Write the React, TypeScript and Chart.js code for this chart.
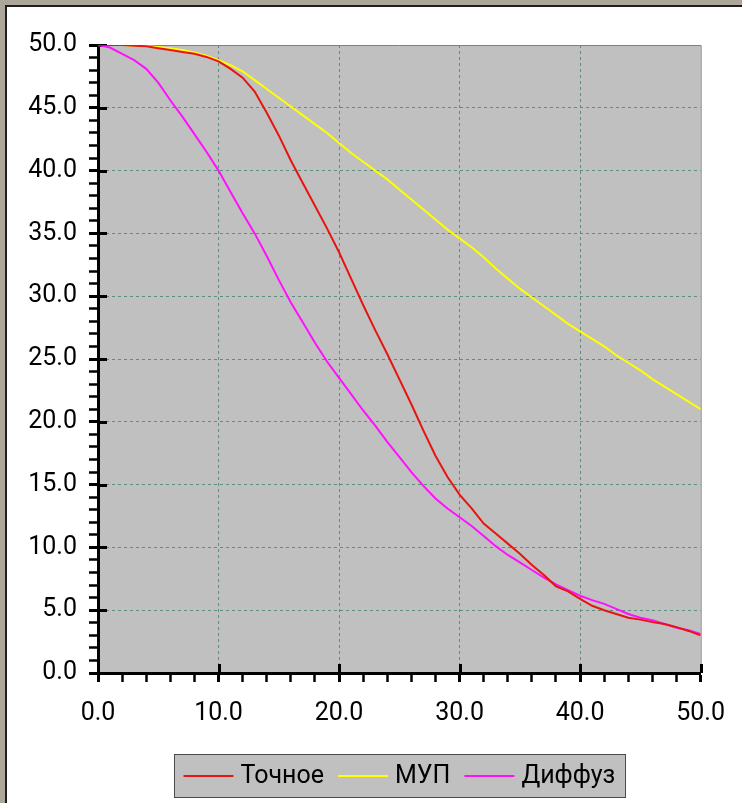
import React, { useEffect, useRef } from 'react';
import { Chart, registerables } from 'chart.js';

Chart.register(...registerables);

// ---- data ----
const xs = [
  0, 1, 2, 3, 4, 5, 6, 7, 8, 9, 10, 11, 12, 13, 14, 15, 16, 17, 18, 19, 20,
  21, 22, 23, 24, 25, 26, 27, 28, 29, 30, 31, 32, 33, 34, 35, 36, 37, 38, 39, 40,
  41, 42, 43, 44, 45, 46, 47, 48, 49, 50,
];

const seriesNames = ['Точное', 'МУП', 'Диффуз'];

const exactValues = [
  50.0, 50.0, 50.0, 49.95, 49.9, 49.75, 49.6, 49.45, 49.3, 49.05, 48.7,
  48.1, 47.4, 46.3, 44.6, 42.8, 40.8, 39.0, 37.2, 35.4, 33.5,
  31.4, 29.3, 27.3, 25.4, 23.4, 21.4, 19.3, 17.3, 15.6, 14.2,
  13.1, 11.9, 11.1, 10.3, 9.5, 8.6, 7.8, 6.9, 6.5, 5.9,
  5.35, 5.0, 4.7, 4.4, 4.25, 4.05, 3.9, 3.65, 3.35, 3.0,
];

const mupValues = [
  50.0, 50.0, 50.0, 49.95, 49.9, 49.85, 49.75, 49.6, 49.4, 49.15, 48.8,
  48.4, 47.9, 47.2, 46.5, 45.8, 45.1, 44.4, 43.7, 43.0, 42.2,
  41.4, 40.7, 40.0, 39.3, 38.5, 37.7, 36.9, 36.1, 35.3, 34.6,
  33.9, 33.1, 32.2, 31.4, 30.6, 29.9, 29.2, 28.5, 27.8, 27.2,
  26.6, 26.0, 25.3, 24.7, 24.1, 23.4, 22.8, 22.2, 21.6, 21.0,
];

const diffValues = [
  50.0, 49.8, 49.3, 48.8, 48.1, 47.0, 45.6, 44.3, 42.9, 41.5, 40.0,
  38.3, 36.6, 35.0, 33.2, 31.3, 29.5, 27.9, 26.3, 24.8, 23.5,
  22.2, 20.9, 19.7, 18.4, 17.2, 16.0, 14.9, 13.9, 13.1, 12.4,
  11.7, 10.9, 10.1, 9.4, 8.8, 8.2, 7.6, 7.05, 6.6, 6.15,
  5.8, 5.5, 5.1, 4.7, 4.4, 4.2, 3.9, 3.6, 3.4, 3.1,
];

const xMin = 0;
const xMax = 50;
const xMinorStep = 2;
const xMajorStep = 10;
const yMin = 0;
const yMax = 50;
const yMinorStep = 1;
const yMajorStep = 5;

// ---- styles ----
const seriesColors = ['#e8140f', '#ffff00', '#ff10ff'];
const FONT = 'Roboto, "Liberation Sans", Arial, sans-serif';
const GRID_COLOR = '#5b8f7c';
const PLOT_BG = '#c0c0c0';

const isMajor = (v: number, step: number) => Math.abs(v / step - Math.round(v / step)) < 1e-6;

const decorPlugin = {
  id: 'decor',
  beforeDraw(chart: any) {
    const { ctx, chartArea: a } = chart;
    ctx.save();
    ctx.fillStyle = PLOT_BG;
    ctx.fillRect(a.left, a.top, a.right - a.left, a.bottom - a.top);
    ctx.restore();
  },
  beforeDatasetsDraw(chart: any) {
    const { ctx, chartArea: a, scales } = chart;
    ctx.save();
    ctx.strokeStyle = '#808080';
    ctx.lineWidth = 1;
    ctx.beginPath();
    ctx.moveTo(a.left, a.top + 0.5);
    ctx.lineTo(a.right + 0.5, a.top + 0.5);
    ctx.lineTo(a.right + 0.5, a.bottom);
    ctx.stroke();
    ctx.strokeStyle = '#000';
    ctx.lineWidth = 3;
    const inward = 9;
    for (let v = xMin; v <= xMax; v += xMajorStep) {
      const px = Math.round(scales.x.getPixelForValue(v)) + 0.5;
      ctx.beginPath();
      ctx.moveTo(px, a.bottom);
      ctx.lineTo(px, a.bottom - inward);
      ctx.stroke();
    }
    for (let v = yMin; v <= yMax; v += yMajorStep) {
      const py = Math.round(scales.y.getPixelForValue(v)) + 0.5;
      ctx.beginPath();
      ctx.moveTo(a.left, py);
      ctx.lineTo(a.left + inward, py);
      ctx.stroke();
    }
    ctx.restore();
  },
  afterDraw(chart: any) {
    const { ctx, chartArea: a } = chart;
    const dsets = chart.data.datasets;
    ctx.save();
    ctx.font = `25px ${FONT}`;
    const lineLen = 50;
    const gapLT = 7;
    const gapItems = 14;
    const padL = 9;
    const padR = 10;
    const widths = dsets.map((d: any) => ctx.measureText(d.label).width);
    let total = padL + padR + gapItems * (dsets.length - 1);
    widths.forEach((w: number) => (total += lineLen + gapLT + w));
    total = Math.round(total);
    const boxLeft = Math.round((a.left + a.right) / 2 - total / 2) + 0.5;
    const boxTop = Math.round(a.bottom + 81) + 0.5;
    const boxH = 43;
    ctx.fillStyle = PLOT_BG;
    ctx.fillRect(boxLeft, boxTop, total, boxH);
    ctx.strokeStyle = '#4a4a4a';
    ctx.lineWidth = 1;
    ctx.strokeRect(boxLeft, boxTop, total, boxH);
    const cy = boxTop + boxH / 2;
    let x = boxLeft + padL;
    dsets.forEach((d: any, i: number) => {
      ctx.strokeStyle = d.borderColor;
      ctx.lineWidth = 2;
      ctx.beginPath();
      ctx.moveTo(x, Math.round(cy));
      ctx.lineTo(x + lineLen, Math.round(cy));
      ctx.stroke();
      x += lineLen + gapLT;
      ctx.fillStyle = '#000';
      ctx.textBaseline = 'middle';
      ctx.textAlign = 'left';
      ctx.fillText(d.label, x, cy + 1);
      x += widths[i] + gapItems;
    });
    ctx.restore();
  },
};

export default function App() {
  const canvasRef = useRef<HTMLCanvasElement | null>(null);

  useEffect(() => {
    document.body.style.margin = '0';
    const canvas = canvasRef.current;
    if (!canvas) return;
    const seriesValues = [exactValues, mupValues, diffValues];
    const chart = new Chart(canvas, {
      type: 'line',
      data: {
        datasets: seriesValues.map((vals, i) => ({
          label: seriesNames[i],
          data: xs.map((x, j) => ({ x, y: vals[j] })),
          borderColor: seriesColors[i],
          backgroundColor: seriesColors[i],
          borderWidth: 2,
          pointRadius: 0,
          tension: 0,
          fill: false,
        })),
      },
      options: {
        responsive: false,
        animation: false,
        devicePixelRatio: 1,
        layout: { padding: { left: 0, top: 45, right: 39, bottom: 70 } },
        plugins: {
          legend: { display: false },
          tooltip: { enabled: false },
          title: { display: false },
        },
        scales: {
          x: {
            type: 'linear',
            min: xMin,
            max: xMax,
            afterFit: (s: any) => {
              s.height = 60;
            },
            ticks: {
              stepSize: xMinorStep,
              autoSkip: false,
              maxRotation: 0,
              padding: 17,
              color: '#000',
              font: { family: FONT, size: 25 },
              callback: (v: any) => (isMajor(Number(v), xMajorStep) ? Number(v).toFixed(1) : ''),
            },
            grid: {
              color: (c: any) => {
                const v = c.tick ? c.tick.value : NaN;
                return isMajor(v, xMajorStep) && v > xMin && v < xMax ? GRID_COLOR : 'rgba(0,0,0,0)';
              },
              lineWidth: 1,
              drawTicks: true,
              tickLength: 9,
              tickColor: '#000',
              tickWidth: (c: any) => (c.tick && isMajor(c.tick.value, xMajorStep) ? 3 : 2.5),
              tickBorderDash: [],
            },
            border: { display: true, color: '#000', width: 3, dash: [3, 3] },
          },
          y: {
            type: 'linear',
            min: yMin,
            max: yMax,
            afterFit: (s: any) => {
              s.width = 98;
            },
            ticks: {
              stepSize: yMinorStep,
              autoSkip: false,
              padding: 12,
              color: '#000',
              font: { family: FONT, size: 25 },
              callback: (v: any) => (isMajor(Number(v), yMajorStep) ? Number(v).toFixed(1) : ''),
            },
            grid: {
              color: (c: any) => {
                const v = c.tick ? c.tick.value : NaN;
                return isMajor(v, yMajorStep) && v > yMin && v < yMax ? GRID_COLOR : 'rgba(0,0,0,0)';
              },
              lineWidth: 1,
              drawTicks: true,
              tickLength: 9,
              tickColor: '#000',
              tickWidth: (c: any) => (c.tick && isMajor(c.tick.value, yMajorStep) ? 3 : 2.5),
              tickBorderDash: [],
            },
            border: { display: true, color: '#000', width: 3, dash: [3, 3] },
          },
        },
      },
      plugins: [decorPlugin],
    });
    return () => chart.destroy();
  }, []);

  return (
    <div style={{ position: 'fixed', left: 0, top: 0, width: 742, height: 803, background: '#fff', overflow: 'hidden' }}>
      <div style={{ position: 'absolute', left: 0, top: 0, width: 742, height: 5, background: '#aca69b' }} />
      <div style={{ position: 'absolute', left: 0, top: 0, width: 5, height: 803, background: '#aca69b' }} />
      <div style={{ position: 'absolute', left: 5, top: 5, width: 737, height: 2, background: '#1e1e1e' }} />
      <div style={{ position: 'absolute', left: 5, top: 5, width: 2, height: 798, background: '#1e1e1e' }} />
      <canvas
        ref={canvasRef}
        width={742}
        height={803}
        style={{ position: 'absolute', left: 0, top: 0, width: 742, height: 803 }}
      />
    </div>
  );
}
